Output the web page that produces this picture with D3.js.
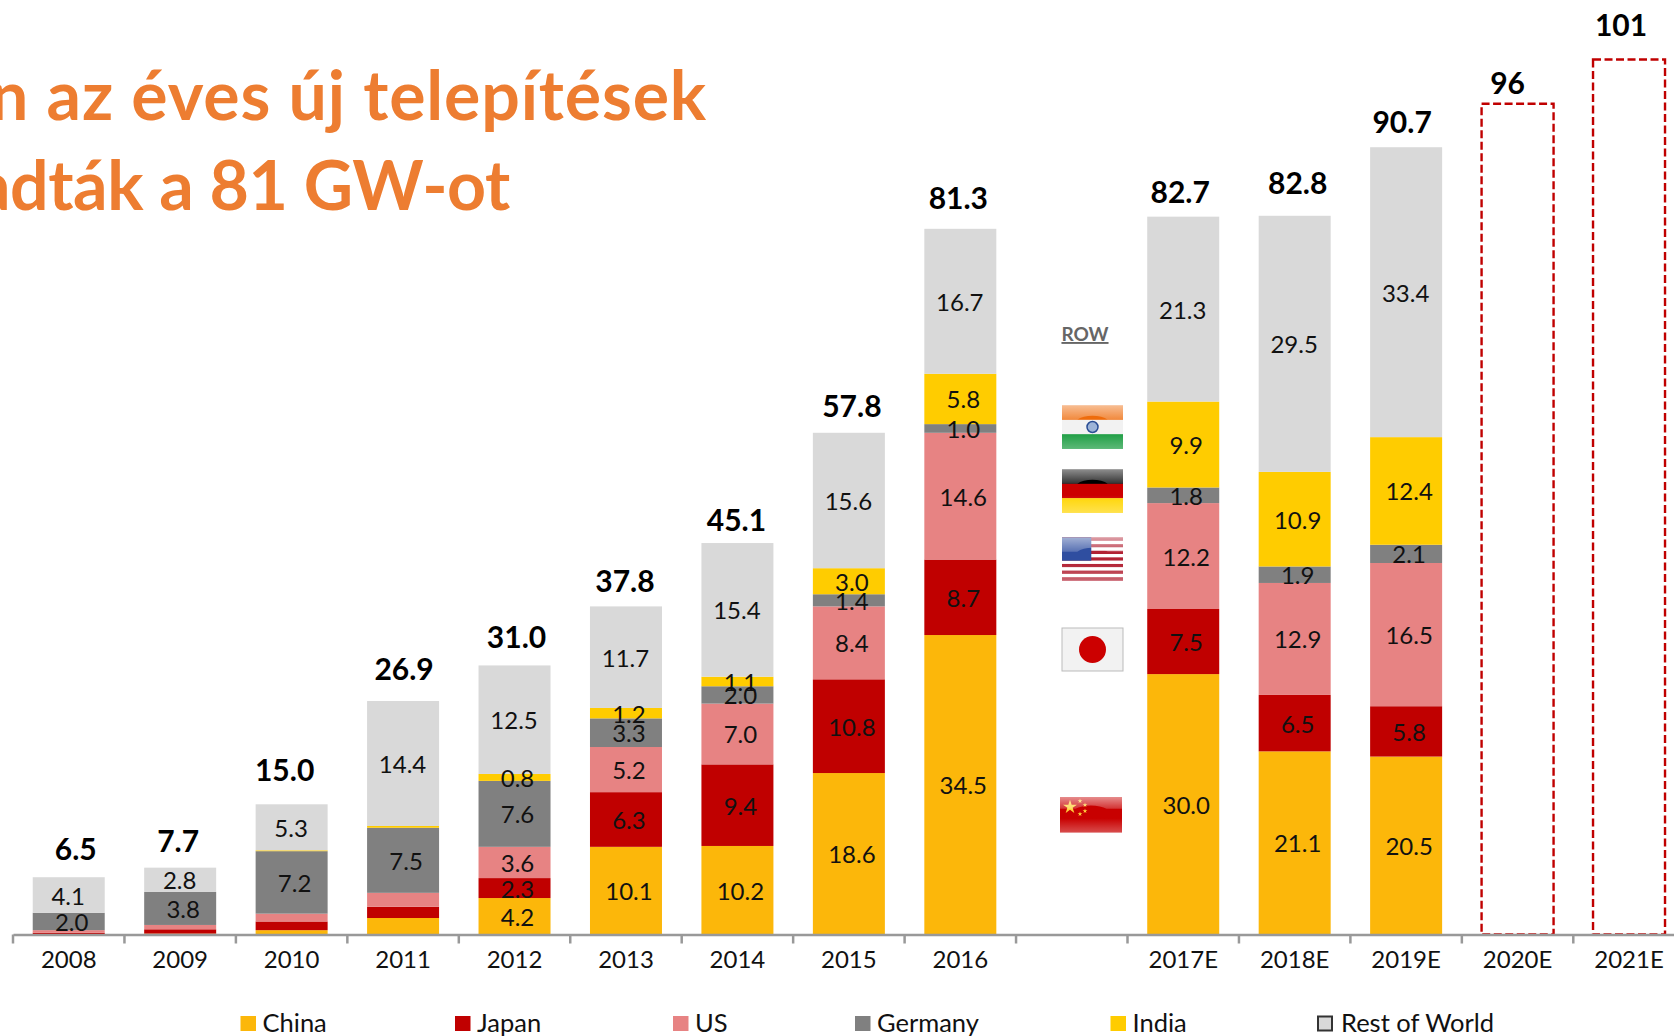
<!DOCTYPE html>
<html>
<head>
<meta charset="utf-8">
<script src="https://cdnjs.cloudflare.com/ajax/libs/d3/7.8.5/d3.min.js"></script>
<style>
  html, body { margin: 0; background: #fff; overflow: hidden; }
  text { font-family: Lato, "Noto Sans", sans-serif; fill: #111; }
</style>
</head>
<body>
<svg id="chart" width="1674" height="1036"></svg>
<script>
const years = ['2008', '2009', '2010', '2011', '2012', '2013', '2014', '2015', '2016', ' ', '2017E', '2018E', '2019E', '2020E', '2021E']
const seriesNames = ['China', 'Japan', 'US', 'Germany', 'India', 'Rest of World']

const china = [0, 0.1, 0.5, 1.9, 4.2, 10.1, 10.2, 18.6, 34.5, 0, 30.0, 21.1, 20.5, 0, 0]
const japan = [0.2, 0.5, 1.0, 1.3, 2.3, 6.3, 9.4, 10.8, 8.7, 0, 7.5, 6.5, 5.8, 0, 0]
const us = [0.3, 0.5, 0.9, 1.6, 3.6, 5.2, 7.0, 8.4, 14.6, 0, 12.2, 12.9, 16.5, 0, 0]
const germany = [2.0, 3.8, 7.2, 7.5, 7.6, 3.3, 2.0, 1.4, 1.0, 0, 1.8, 1.9, 2.1, 0, 0]
const india = [0, 0, 0.1, 0.2, 0.8, 1.2, 1.1, 3.0, 5.8, 0, 9.9, 10.9, 12.4, 0, 0]
const rest = [4.1, 2.8, 5.3, 14.4, 12.5, 11.7, 15.4, 15.6, 16.7, 0, 21.3, 29.5, 33.4, 0, 0]
const totals = ['6.5', '7.7', '15.0', '26.9', '31.0', '37.8', '45.1', '57.8', '81.3', '', '82.7', '82.8', '90.7', '96', '101']
const forecastYears = ['2020E', '2021E']
const forecastValues = [95.7, 100.8]

const colors = ['#FCB70A', '#C00000', '#E78383', '#808080', '#FFCC00', '#D9D9D9']

// label nudges: [dx, gap above bar]
const totalNudge = [[7, 17], [-2, 16], [-7, 23], [1, 21], [2, 17], [-1, 14], [-1, 12], [3, 16], [-2, 20], [0, 0], [-3, 14], [3, 22], [-4, 14], [-10, 10], [-8, 24]]

const svg = d3.select('#chart')
const baseY = 934.5

const x = d3.scaleBand().domain(years).range([13, 13 + 15 * 111.45]).paddingInner(0.354).paddingOuter(0.177)
const y = d3.scaleLinear().domain([0, 100]).range([baseY, baseY - 868])

const table = years.map((year, i) => ({
  year, China: china[i], Japan: japan[i], US: us[i], Germany: germany[i], India: india[i], 'Rest of World': rest[i]
}))
const stacked = d3.stack().keys(seriesNames)(table)

// title, cut off by the left edge like in the picture
const title = svg.append('g').attr('text-anchor', 'end')
  .style('font-weight', 700).style('font-size', '68px')
title.append('text').attr('x', 707).attr('y', 120).style('fill', '#ED7D31').style('letter-spacing', '0.85px').text('n az éves új telepítések')
title.append('text').attr('x', 510).attr('y', 210).style('fill', '#ED7D31').style('letter-spacing', '-0.4px').text('adták a 81 GW-ot')

// stacked bars
svg.append('g').selectAll('g').data(stacked).join('g')
  .attr('fill', (d, i) => colors[i])
  .selectAll('rect').data(d => d).join('rect')
  .attr('x', d => x(d.data.year))
  .attr('width', x.bandwidth())
  .attr('y', d => y(d[1]))
  .attr('height', d => y(d[0]) - y(d[1]))

// forecast bars
svg.append('g').selectAll('rect').data(forecastYears).join('rect')
  .attr('x', d => x(d))
  .attr('width', x.bandwidth())
  .attr('y', (d, i) => y(forecastValues[i]))
  .attr('height', (d, i) => baseY - y(forecastValues[i]))
  .attr('fill', 'none')
  .attr('stroke', '#C00000')
  .attr('stroke-width', 2.4)
  .attr('stroke-dasharray', '8 3.5')

// segment labels (the first years only label the two big segments)
const nameValues = [china, japan, us, germany, india, rest]
stacked.forEach((s, si) => {
  const isRest = si === 5
  svg.append('g').attr('text-anchor', 'middle').style('font-size', '24px')
    .selectAll('text')
    .data(s.filter((d, i) => {
      if (!nameValues[si][i]) return false
      if (i <= 3 && si !== 3 && si !== 5) return false
      return true
    }))
    .join('text')
    .attr('x', d => x(d.data.year) + x.bandwidth() / 2 + (isRest ? -0.5 : 3))
    .attr('y', d => (y(d[0]) + y(d[1])) / 2 + 9.5)
    .text(d => nameValues[si][years.indexOf(d.data.year)].toFixed(1))
})

// totals
svg.append('g').attr('text-anchor', 'middle')
  .style('font-size', '30px').style('font-weight', 700)
  .selectAll('text').data(years.filter(d => d !== ' ')).join('text')
  .attr('x', d => x(d) + x.bandwidth() / 2 + totalNudge[years.indexOf(d)][0])
  .attr('y', d => {
    const i = years.indexOf(d)
    const fi = forecastYears.indexOf(d)
    const top = fi >= 0 ? forecastValues[fi] : china[i] + japan[i] + us[i] + germany[i] + india[i] + rest[i]
    return y(top) - totalNudge[i][1]
  })
  .style('fill', '#000')
  .text(d => totals[years.indexOf(d)])

// axis, ticks sit between the categories
const axis = svg.append('g').attr('transform', `translate(0,${baseY})`)
  .call(d3.axisBottom(x).tickSize(0).tickPadding(16))
axis.select('.domain').attr('stroke', '#999').attr('stroke-width', 2.5)
axis.selectAll('text').style('font-size', '24px').style('font-family', 'Lato')
axis.selectAll('.boundary').data(d3.range(16)).join('line')
  .attr('class', 'boundary')
  .attr('x1', d => 13 + d * 111.45)
  .attr('x2', d => 13 + d * 111.45)
  .attr('y1', 0)
  .attr('y2', 9)
  .attr('stroke', '#999')
  .attr('stroke-width', 2.5)

// legend
const legendX = [240.5, 455, 673, 855, 1110.5, 1317]
const legend = svg.append('g').selectAll('g').data(seriesNames).join('g')
  .attr('transform', (d, i) => `translate(${legendX[i]},1016)`)
legend.append('rect')
  .attr('width', (d, i) => i === 5 ? 14 : 15.5)
  .attr('height', (d, i) => i === 5 ? 14 : 15)
  .attr('x', (d, i) => i === 5 ? 1 : 0)
  .attr('y', (d, i) => i === 5 ? 0.5 : 0)
  .attr('fill', (d, i) => colors[i])
  .attr('stroke', (d, i) => i === 5 ? '#333' : 'none')
  .attr('stroke-width', 2)
legend.append('text')
  .attr('x', (d, i) => i === 5 ? 24 : 22)
  .attr('y', 16)
  .style('font-size', '25.5px')
  .text(d => d)

// ROW + flags
svg.append('text').attr('x', 1085).attr('y', 341).attr('text-anchor', 'middle')
  .style('font-size', '19px').style('font-weight', 700).style('fill', '#666')
  .style('text-decoration', 'underline').text('ROW')

const defs = svg.append('defs')
const shine = defs.append('linearGradient').attr('id', 'shine').attr('x1', 0).attr('x2', 0).attr('y1', 0).attr('y2', 1)
shine.append('stop').attr('offset', 0).attr('stop-color', '#fff').attr('stop-opacity', 0.55)
shine.append('stop').attr('offset', 1).attr('stop-color', '#fff').attr('stop-opacity', 0.2)
const lower = defs.append('linearGradient').attr('id', 'lower').attr('x1', 0).attr('x2', 0).attr('y1', 0).attr('y2', 1)
lower.append('stop').attr('offset', 0).attr('stop-color', '#fff').attr('stop-opacity', 0)
lower.append('stop').attr('offset', 1).attr('stop-color', '#fff').attr('stop-opacity', 0.3)

function flag(px, py, w, h, draw, gloss) {
  const g = svg.append('g').attr('transform', `translate(${px},${py})`)
  draw(g, w, h)
  if (gloss) {
    g.append('path')
      .attr('d', `M0,0H${w}V${h * 0.33}H${w * 0.75}A${w * 0.3},${h * 0.2} 0 0 0 ${w * 0.25},${h * 0.33}H0Z`)
      .attr('fill', 'url(#shine)')
    g.append('rect').attr('y', h * 0.6).attr('width', w).attr('height', h * 0.4).attr('fill', 'url(#lower)')
  }
  return g
}

const stripes = cols => (g, w, h) => cols.forEach((c, i) => {
  g.append('rect').attr('y', i * h / cols.length).attr('width', w).attr('height', h / cols.length + 0.3).attr('fill', c)
})

flag(1062, 405.5, 61, 43, (g, w, h) => {
  stripes(['#EE6C0C', '#F2F2F2', '#159A3C'])(g, w, h)
  g.append('circle').attr('cx', w / 2).attr('cy', h / 2).attr('r', 5.5).attr('fill', '#9DB4D8').attr('stroke', '#2A4D94').attr('stroke-width', 1.5)
}, true)
flag(1062, 469.5, 61, 43, stripes(['#000', '#CC0000', '#FFD500']), true)
flag(1062, 537.5, 61, 43, (g, w, h) => {
  d3.range(13).forEach(i => {
    g.append('rect').attr('y', i * h / 13).attr('width', w).attr('height', h / 13 + 0.2).attr('fill', i % 2 ? '#fff' : '#B22234')
  })
  g.append('rect').attr('width', w * 0.48).attr('height', h * 0.54).attr('fill', '#2F4EA0')
}, true)
flag(1062, 628, 61, 43, (g, w, h) => {
  g.append('rect').attr('width', w).attr('height', h).attr('fill', '#F2F2F2').attr('stroke', '#bbb')
  g.append('circle').attr('cx', w / 2).attr('cy', h / 2).attr('r', 13.5).attr('fill', '#CC0000')
}, false)
flag(1060, 797, 62, 35.5, (g, w, h) => {
  g.append('rect').attr('width', w).attr('height', h).attr('fill', '#C80000')
  g.append('path').attr('d', d3.symbol(d3.symbolStar, 60)()).attr('transform', 'translate(10,10)').attr('fill', '#FFD23C')
  ;[[20, 4], [25, 8], [25, 14], [20, 17]].forEach(p => {
    g.append('path').attr('d', d3.symbol(d3.symbolStar, 7)()).attr('transform', `translate(${p[0]},${p[1]})`).attr('fill', '#FFD23C')
  })
}, true)
</script>
</body>
</html>
